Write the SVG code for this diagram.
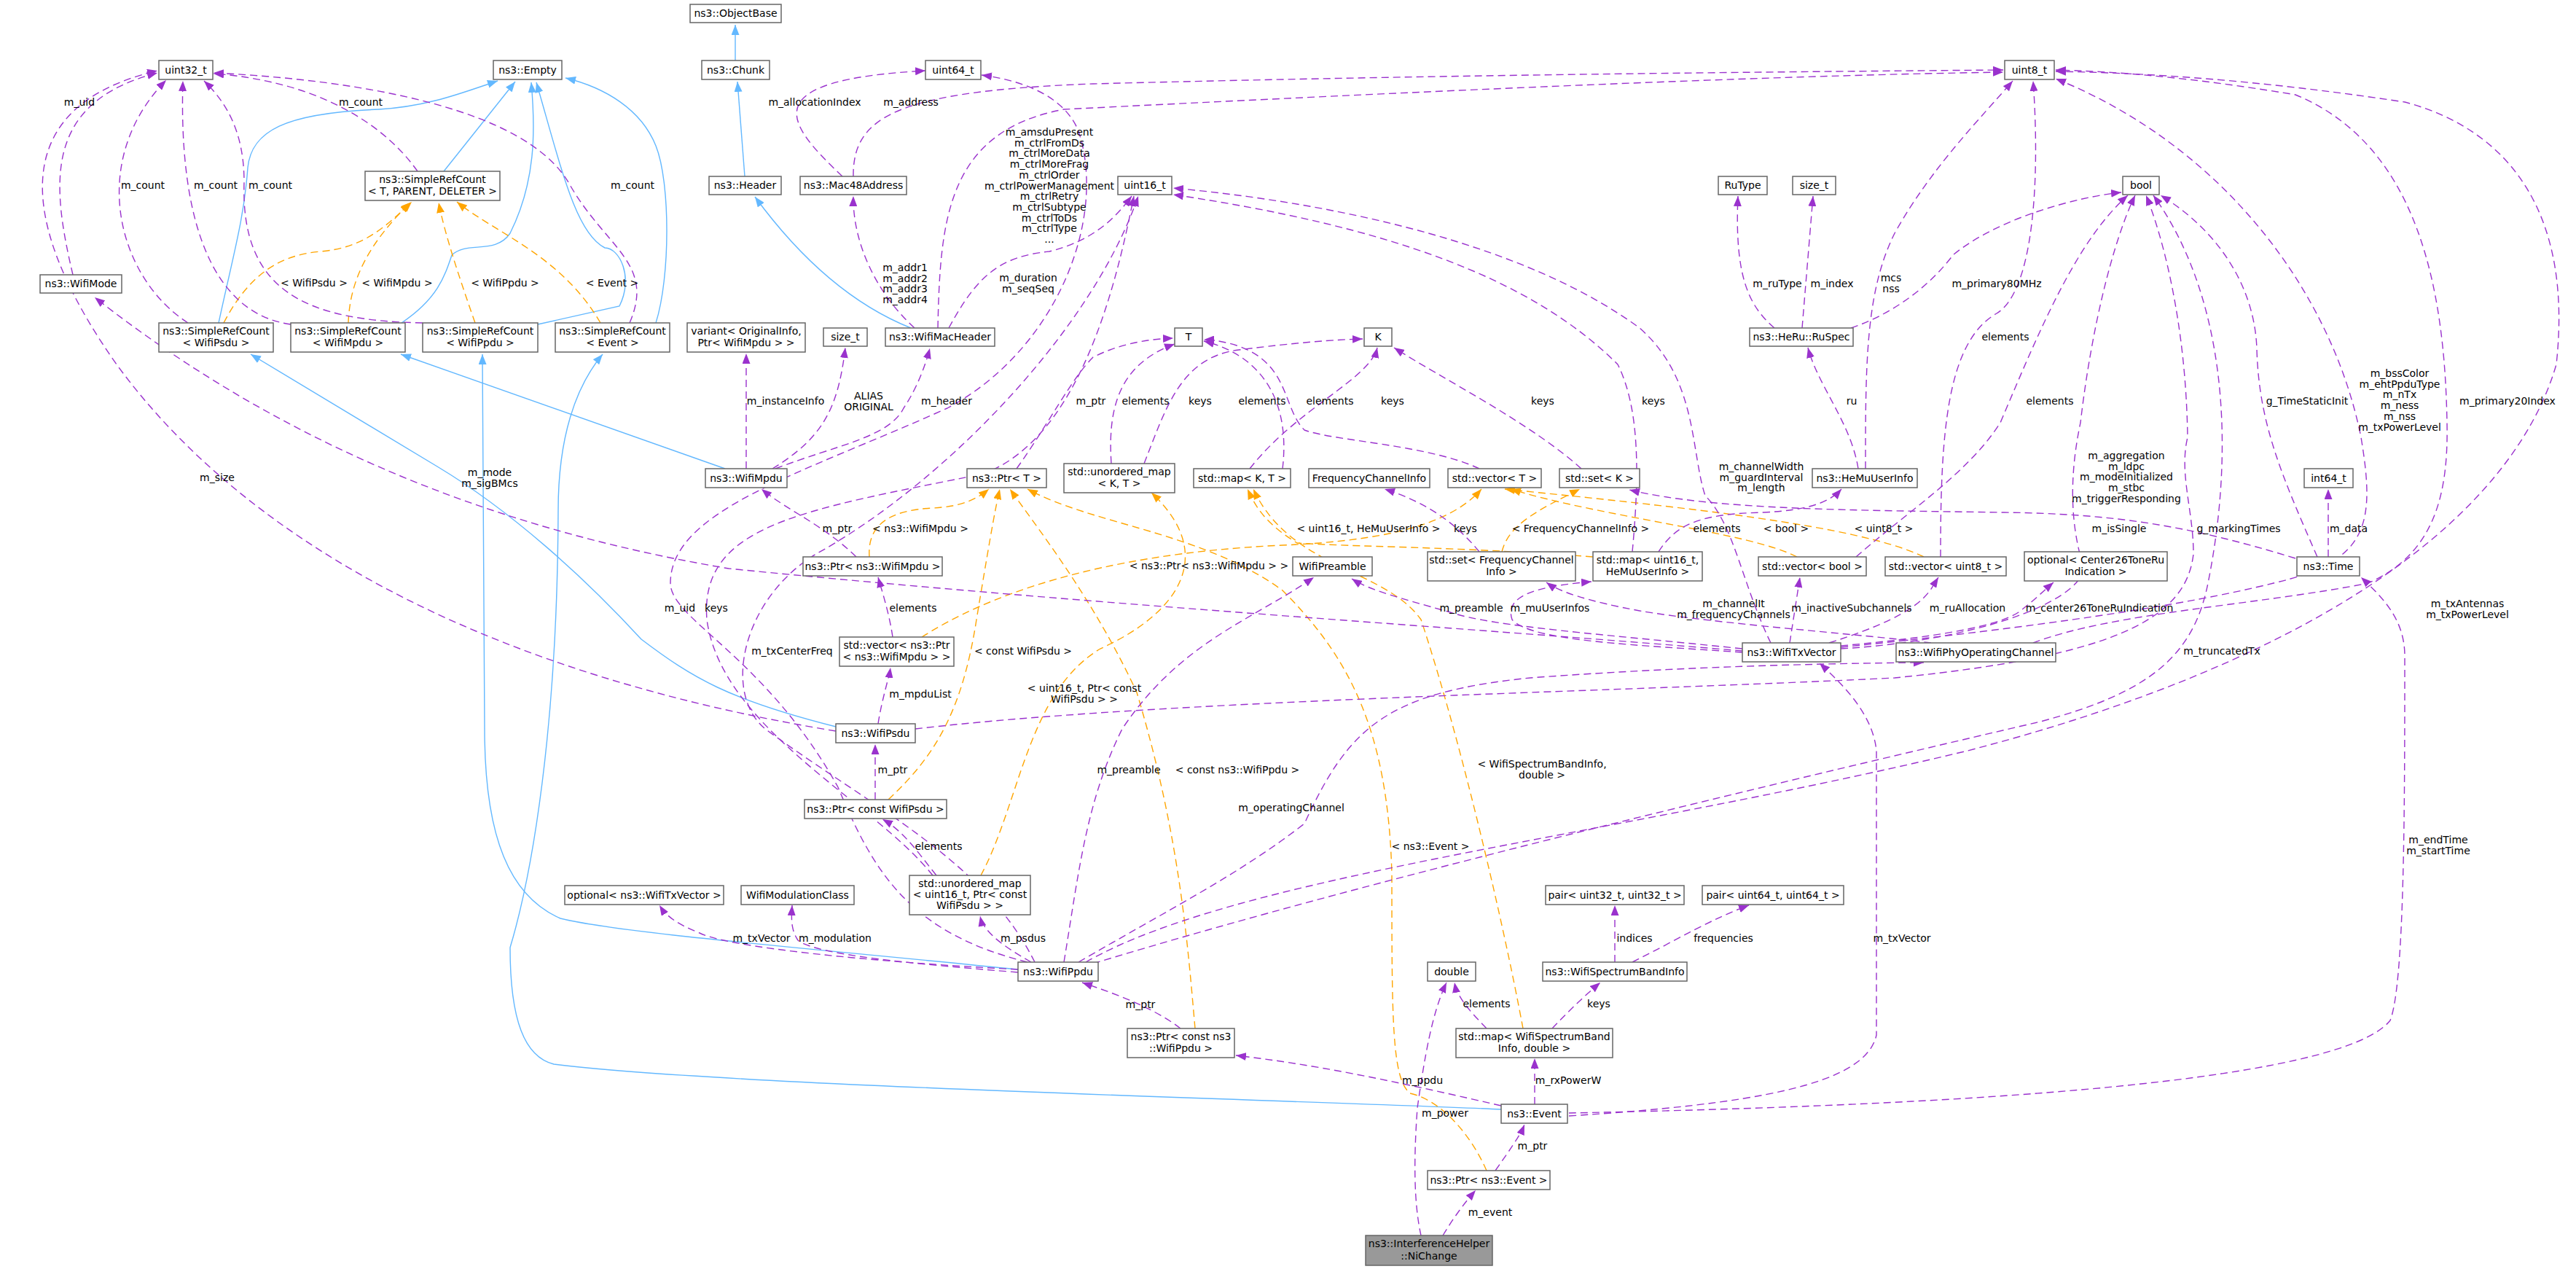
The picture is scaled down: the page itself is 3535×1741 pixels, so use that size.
<svg xmlns="http://www.w3.org/2000/svg" width="3535" height="1741" viewBox="0 0 3535 1741">
<defs>
<style>
.n rect{fill:#fff;stroke:#666;stroke-width:1.5}
.n text,.l{font-family:"DejaVu Sans",sans-serif;font-size:14px;text-anchor:middle;fill:#000}
.p{fill:none;stroke:#9a32cd;stroke-width:1.4;stroke-dasharray:10,6;marker-end:url(#ap)}
.o{fill:none;stroke:#ffa500;stroke-width:1.4;stroke-dasharray:10,6;marker-end:url(#ao)}
.b{fill:none;stroke:#63b8ff;stroke-width:1.4;marker-end:url(#ab)}
</style>
<marker id="ap" markerUnits="userSpaceOnUse" markerWidth="15" markerHeight="11" refX="14" refY="5.5" orient="auto"><path d="M0,0 L14,5.5 L0,11 z" fill="#9a32cd"/></marker>
<marker id="ao" markerUnits="userSpaceOnUse" markerWidth="15" markerHeight="11" refX="14" refY="5.5" orient="auto"><path d="M0,0 L14,5.5 L0,11 z" fill="#ffa500"/></marker>
<marker id="ab" markerUnits="userSpaceOnUse" markerWidth="15" markerHeight="11" refX="14" refY="5.5" orient="auto"><path d="M0,0 L14,5.5 L0,11 z" fill="#63b8ff"/></marker>
</defs>
<rect width="3535" height="1741" fill="#fff"/>
<g id="edges">
<path class="b" d="M1009 83 L1009 34"/>
<path class="b" d="M1022 242 L1012 112"/>
<path class="b" d="M1250 450 C1150 410 1080 330 1036 270"/>
<path class="b" d="M609 235 L707 112"/>
<path class="b" d="M300 443 C320 350 335 300 340 230 C345 180 390 155 520 150 C590 146 640 125 683 111"/>
<path class="b" d="M551 443 C600 410 610 380 620 350 C640 330 680 350 700 320 C735 250 735 180 729 113"/>
<path class="b" d="M738 445 L850 420 C870 380 850 340 830 340 C790 320 770 230 736 113"/>
<path class="b" d="M900 443 C920 380 920 250 900 200 C880 150 830 120 776 107"/>
<path class="b" d="M995 643 L550 486"/>
<path class="b" d="M1147 997 C1000 960 950 930 880 877 C800 790 700 700 600 640 C500 580 400 520 344 486"/>
<path class="b" d="M1397 1330 C1100 1300 850 1280 769 1260 C700 1230 665 1150 665 1000 L662 486"/>
<path class="b" d="M2060 1522 C1800 1510 1000 1490 760 1460 C720 1450 700 1400 700 1300 C730 1200 765 1000 766 700 C766 600 790 530 827 486"/>

<path class="o" d="M307 443 C340 380 380 350 440 345 C500 340 530 310 565 277"/>
<path class="o" d="M478 443 C480 380 510 330 563 278"/>
<path class="o" d="M652 443 C630 380 610 320 602 278"/>
<path class="o" d="M824 443 C770 350 680 320 627 277"/>
<path class="o" d="M1193 764 C1190 720 1220 700 1280 697 C1320 695 1340 685 1357 671"/>
<path class="o" d="M1219 1097 C1280 1040 1320 980 1340 850 C1355 760 1365 700 1372 671"/>
<path class="o" d="M1640 1411 C1630 1300 1620 1150 1560 950 C1500 820 1420 720 1386 671"/>
<path class="o" d="M2040 1606 C2020 1560 1980 1510 1935 1500 C1910 1480 1910 1400 1910 1200 C1905 1000 1850 900 1760 810 C1650 730 1500 720 1410 671"/>
<path class="o" d="M2186 764 C2000 750 1850 750 1780 745 C1740 720 1725 700 1712 671"/>
<path class="o" d="M2090 1411 C2060 1250 2000 1000 1950 850 C1900 780 1770 780 1720 671"/>
<path class="o" d="M1346 1201 C1400 1100 1410 950 1510 890 C1620 840 1670 760 1580 676"/>
<path class="o" d="M1265 874 C1350 820 1500 760 1760 748 C1900 742 1990 720 2033 671"/>
<path class="o" d="M2466 764 C2400 730 2200 710 2073 671"/>
<path class="o" d="M2640 764 C2550 720 2300 695 2065 671"/>
<path class="o" d="M2061 757 C2070 720 2110 700 2168 671"/>

<path class="p" d="M100 377 C70 250 60 140 216 100"/>
<path class="p" d="M1147 1003 C700 930 350 760 160 500 C40 330 -10 150 216 97"/>
<path class="p" d="M258 443 C160 380 120 220 228 110"/>
<path class="p" d="M399 445 C290 430 245 300 251 111"/>
<path class="p" d="M580 443 C420 440 330 400 335 250 C335 180 310 140 280 111"/>
<path class="p" d="M573 235 C520 160 420 110 293 101"/>
<path class="p" d="M864 443 C900 360 830 340 780 250 C720 150 500 110 293 100"/>
<path class="p" d="M1156 242 C1080 170 1030 110 1270 97"/>
<path class="p" d="M1171 242 C1170 160 1230 125 1500 115 C2000 102 2500 98 2749 96"/>
<path class="p" d="M1287 450 C1290 300 1300 180 1460 150 C1900 128 2400 104 2749 99"/>
<path class="p" d="M1255 450 C1200 400 1170 330 1171 269"/>
<path class="p" d="M1302 450 C1340 380 1370 352 1440 345 C1500 330 1530 300 1553 269"/>
<path class="p" d="M1410 1320 C1250 1280 1200 1200 1150 1080 C1050 900 920 850 920 800 C920 700 1100 650 1300 560 C1450 480 1520 300 1480 180 C1460 130 1400 110 1347 103"/>
<path class="p" d="M1280 1201 C1200 1100 990 1000 970 850 C960 720 1100 700 1350 650 C1480 600 1530 400 1556 269"/>
<path class="p" d="M1420 1320 C1350 1180 1200 1110 1050 1000 C990 950 1020 820 1120 760 C1300 660 1500 450 1562 269"/>
<path class="p" d="M2240 757 C2250 650 2250 560 2220 500 C2100 380 1900 310 1610 267"/>
<path class="p" d="M2430 882 C2390 800 2380 720 2340 680 C2320 620 2330 520 2250 450 C2100 340 1850 280 1610 258"/>
<path class="p" d="M1024 643 L1024 485"/>
<path class="p" d="M1060 643 C1130 600 1150 560 1160 477"/>
<path class="p" d="M1064 643 C1150 610 1220 600 1240 560 C1260 530 1270 500 1276 478"/>
<path class="p" d="M1395 643 C1440 580 1470 520 1500 490 C1540 470 1580 465 1610 464"/>
<path class="p" d="M1525 636 C1520 560 1535 500 1612 472"/>
<path class="p" d="M1570 636 C1600 560 1620 490 1700 480 C1780 470 1830 466 1870 465"/>
<path class="p" d="M1760 643 C1770 560 1740 490 1652 468"/>
<path class="p" d="M1715 643 C1780 560 1880 520 1890 477"/>
<path class="p" d="M2030 643 C1960 610 1830 605 1790 590 C1760 560 1770 500 1700 475 C1680 468 1660 466 1652 466"/>
<path class="p" d="M2170 643 C2100 580 1980 520 1913 477"/>
<path class="p" d="M2435 450 C2400 420 2380 380 2385 269"/>
<path class="p" d="M2473 450 L2488 269"/>
<path class="p" d="M2540 450 C2600 430 2650 390 2680 350 C2740 300 2850 270 2911 264"/>
<path class="p" d="M2550 643 C2540 580 2495 530 2481 477"/>
<path class="p" d="M2560 643 C2560 500 2560 400 2600 320 C2650 230 2720 160 2762 111"/>
<path class="p" d="M2547 764 C2620 700 2700 650 2745 580 C2800 450 2850 330 2920 268"/>
<path class="p" d="M2663 764 C2663 600 2670 470 2740 430 C2790 400 2800 250 2790 111"/>
<path class="p" d="M3180 764 C3130 650 3100 580 3097 480 C3095 400 3050 320 2965 268"/>
<path class="p" d="M2526 888 C2800 860 3000 830 3120 800 C3250 770 3260 720 3240 600 C3200 400 3050 200 2821 108"/>
<path class="p" d="M2790 882 C2900 840 3100 830 3250 800 C3340 760 3360 680 3358 580 C3355 400 3320 200 3150 130 C3000 105 2900 98 2821 96"/>
<path class="p" d="M1490 1320 C1700 1200 2200 1150 2700 1030 C3200 900 3450 700 3508 500 C3530 300 3450 180 3300 140 C3100 110 2950 100 2821 98"/>
<path class="p" d="M2526 890 C2700 880 2850 830 2860 780 C2840 720 2840 650 2855 580 C2870 450 2900 330 2930 268"/>
<path class="p" d="M3195 764 L3195 671"/>
<path class="p" d="M3150 766 C3000 720 2900 705 2750 703 C2550 700 2350 700 2236 672"/>
<path class="p" d="M2276 757 C2300 720 2330 705 2420 703 C2480 700 2510 690 2527 671"/>
<path class="p" d="M2030 757 C2000 720 1960 690 1900 671"/>
<path class="p" d="M1175 764 C1130 720 1080 700 1045 671"/>
<path class="p" d="M1225 874 C1220 840 1210 810 1205 792"/>
<path class="p" d="M1205 993 C1210 960 1220 930 1222 916"/>
<path class="p" d="M1201 1097 L1201 1021"/>
<path class="p" d="M1285 1201 C1260 1170 1240 1140 1211 1124"/>
<path class="p" d="M1415 1320 C1380 1300 1350 1280 1345 1257"/>
<path class="p" d="M1397 1330 C1200 1320 1000 1300 960 1280 C930 1268 915 1258 905 1242"/>
<path class="p" d="M1397 1334 C1250 1322 1120 1310 1095 1290 C1085 1275 1086 1260 1087 1242"/>
<path class="p" d="M1460 1320 C1480 1200 1490 1100 1540 1000 C1620 880 1720 850 1803 792"/>
<path class="p" d="M1480 1320 C1600 1250 1700 1200 1790 1130 C1850 1000 1900 950 2100 930 C2300 915 2500 910 2640 909"/>
<path class="p" d="M2391 893 C2000 860 1500 830 1000 780 C700 730 400 620 130 408"/>
<path class="p" d="M2391 890 C2200 870 2050 860 1990 840 C1920 820 1880 810 1855 794"/>
<path class="p" d="M2391 895 C2250 885 2100 880 2075 850 C2065 820 2100 805 2184 798"/>
<path class="p" d="M2650 882 C2550 870 2350 855 2250 838 C2180 825 2140 812 2122 799"/>
<path class="p" d="M2456 882 L2470 792"/>
<path class="p" d="M2510 882 C2580 860 2620 840 2640 820 C2650 810 2655 800 2660 792"/>
<path class="p" d="M2526 886 C2650 875 2740 860 2770 840 C2790 825 2805 810 2818 799"/>
<path class="p" d="M1256 1000 C1600 960 2200 950 2600 930 C2900 900 3000 850 3010 760 C3010 700 2990 650 3002 600 C3000 450 2970 330 2945 268"/>
<path class="p" d="M1500 1322 C1900 1200 2500 1060 2800 990 C2950 950 3010 900 3030 800 C3070 600 3050 400 2955 268"/>
<path class="p" d="M2153 1527 C2500 1520 3200 1500 3280 1400 C3300 1350 3300 1100 3300 900 C3300 850 3270 820 3240 792"/>
<path class="p" d="M2153 1531 C2400 1515 2560 1490 2575 1420 L2575 1030 C2570 980 2530 940 2497 910"/>
<path class="p" d="M2060 1517 C1900 1480 1800 1460 1696 1448"/>
<path class="p" d="M2106 1515 L2106 1452"/>
<path class="p" d="M2040 1411 C2020 1390 2000 1370 1996 1348"/>
<path class="p" d="M2130 1411 C2150 1390 2170 1370 2196 1348"/>
<path class="p" d="M2216 1320 L2216 1242"/>
<path class="p" d="M2240 1320 C2300 1290 2350 1260 2400 1242"/>
<path class="p" d="M1620 1411 C1580 1380 1520 1360 1485 1348"/>
<path class="p" d="M2052 1606 C2070 1580 2085 1560 2092 1543"/>
<path class="p" d="M1980 1695 C1995 1670 2010 1650 2025 1633"/>
<path class="p" d="M1950 1695 C1940 1650 1940 1590 1945 1520 C1955 1450 1965 1390 1985 1348"/>
</g>
<g id="labels">
<text class="l" x="109" y="145">m_uid</text>
<text class="l" x="196" y="259">m_count</text>
<text class="l" x="296" y="259">m_count</text>
<text class="l" x="371" y="259">m_count</text>
<text class="l" x="495" y="145">m_count</text>
<text class="l" x="868" y="259">m_count</text>
<text class="l" x="431" y="393">&lt; WifiPsdu &gt;</text>
<text class="l" x="545" y="393">&lt; WifiMpdu &gt;</text>
<text class="l" x="693" y="393">&lt; WifiPpdu &gt;</text>
<text class="l" x="840" y="393">&lt; Event &gt;</text>
<text class="l" x="1118" y="145">m_allocationIndex</text>
<text class="l" x="1250" y="145">m_address</text>
<text class="l" x="1440" y="186"><tspan x="1440">m_amsduPresent</tspan><tspan x="1440" dy="14.7">m_ctrlFromDs</tspan><tspan x="1440" dy="14.7">m_ctrlMoreData</tspan><tspan x="1440" dy="14.7">m_ctrlMoreFrag</tspan><tspan x="1440" dy="14.7">m_ctrlOrder</tspan><tspan x="1440" dy="14.7">m_ctrlPowerManagement</tspan><tspan x="1440" dy="14.7">m_ctrlRetry</tspan><tspan x="1440" dy="14.7">m_ctrlSubtype</tspan><tspan x="1440" dy="14.7">m_ctrlToDs</tspan><tspan x="1440" dy="14.7">m_ctrlType</tspan><tspan x="1440" dy="14.7">...</tspan></text>
<text class="l" x="1242" y="372"><tspan x="1242">m_addr1</tspan><tspan x="1242" dy="14.7">m_addr2</tspan><tspan x="1242" dy="14.7">m_addr3</tspan><tspan x="1242" dy="14.7">m_addr4</tspan></text>
<text class="l" x="1411" y="386"><tspan x="1411">m_duration</tspan><tspan x="1411" dy="14.7">m_seqSeq</tspan></text>
<text class="l" x="1078" y="555">m_instanceInfo</text>
<text class="l" x="1192" y="548"><tspan x="1192">ALIAS</tspan><tspan x="1192" dy="14.7">ORIGINAL</tspan></text>
<text class="l" x="1299" y="555">m_header</text>
<text class="l" x="1497" y="555">m_ptr</text>
<text class="l" x="1572" y="555">elements</text>
<text class="l" x="1647" y="555">keys</text>
<text class="l" x="1732" y="555">elements</text>
<text class="l" x="1825" y="555">elements</text>
<text class="l" x="1911" y="555">keys</text>
<text class="l" x="2117" y="555">keys</text>
<text class="l" x="2269" y="555">keys</text>
<text class="l" x="2541" y="555">ru</text>
<text class="l" x="2439" y="394">m_ruType</text>
<text class="l" x="2514" y="394">m_index</text>
<text class="l" x="2595" y="386"><tspan x="2595">mcs</tspan><tspan x="2595" dy="14.7">nss</tspan></text>
<text class="l" x="2740" y="394">m_primary80MHz</text>
<text class="l" x="2752" y="467">elements</text>
<text class="l" x="2813" y="555">elements</text>
<text class="l" x="3166" y="555">g_TimeStaticInit</text>
<text class="l" x="3293" y="517"><tspan x="3293">m_bssColor</tspan><tspan x="3293" dy="14.7">m_ehtPpduType</tspan><tspan x="3293" dy="14.7">m_nTx</tspan><tspan x="3293" dy="14.7">m_ness</tspan><tspan x="3293" dy="14.7">m_nss</tspan><tspan x="3293" dy="14.7">m_txPowerLevel</tspan></text>
<text class="l" x="3441" y="555">m_primary20Index</text>
<text class="l" x="298" y="660">m_size</text>
<text class="l" x="672" y="653"><tspan x="672">m_mode</tspan><tspan x="672" dy="14.7">m_sigBMcs</tspan></text>
<text class="l" x="1149" y="730">m_ptr</text>
<text class="l" x="1263" y="730">&lt; ns3::WifiMpdu &gt;</text>
<text class="l" x="1659" y="781">&lt; ns3::Ptr&lt; ns3::WifiMpdu &gt; &gt;</text>
<text class="l" x="933" y="839">m_uid</text>
<text class="l" x="983" y="839">keys</text>
<text class="l" x="1253" y="839">elements</text>
<text class="l" x="1087" y="898">m_txCenterFreq</text>
<text class="l" x="1404" y="898">&lt; const WifiPsdu &gt;</text>
<text class="l" x="1488" y="949"><tspan x="1488">&lt; uint16_t, Ptr&lt; const</tspan><tspan x="1488" dy="14.7">WifiPsdu &gt; &gt;</tspan></text>
<text class="l" x="1263" y="957">m_mpduList</text>
<text class="l" x="1225" y="1061">m_ptr</text>
<text class="l" x="1549" y="1061">m_preamble</text>
<text class="l" x="1698" y="1061">&lt; const ns3::WifiPpdu &gt;</text>
<text class="l" x="1288" y="1166">elements</text>
<text class="l" x="1772" y="1113">m_operatingChannel</text>
<text class="l" x="1878" y="730">&lt; uint16_t, HeMuUserInfo &gt;</text>
<text class="l" x="2011" y="730">keys</text>
<text class="l" x="2169" y="730">&lt; FrequencyChannelInfo &gt;</text>
<text class="l" x="2417" y="645"><tspan x="2417">m_channelWidth</tspan><tspan x="2417" dy="14.7">m_guardInterval</tspan><tspan x="2417" dy="14.7">m_length</tspan></text>
<text class="l" x="2356" y="730">elements</text>
<text class="l" x="2451" y="730">&lt; bool &gt;</text>
<text class="l" x="2585" y="730">&lt; uint8_t &gt;</text>
<text class="l" x="2019" y="839">m_preamble</text>
<text class="l" x="2127" y="839">m_muUserInfos</text>
<text class="l" x="2379" y="833"><tspan x="2379">m_channelIt</tspan><tspan x="2379" dy="14.7">m_frequencyChannels</tspan></text>
<text class="l" x="2541" y="839">m_inactiveSubchannels</text>
<text class="l" x="2116" y="1053"><tspan x="2116">&lt; WifiSpectrumBandInfo,</tspan><tspan x="2116" dy="14.7">double &gt;</tspan></text>
<text class="l" x="1963" y="1166">&lt; ns3::Event &gt;</text>
<text class="l" x="2918" y="630"><tspan x="2918">m_aggregation</tspan><tspan x="2918" dy="14.7">m_ldpc</tspan><tspan x="2918" dy="14.7">m_modeInitialized</tspan><tspan x="2918" dy="14.7">m_stbc</tspan><tspan x="2918" dy="14.7">m_triggerResponding</tspan></text>
<text class="l" x="2908" y="730">m_isSingle</text>
<text class="l" x="3072" y="730">g_markingTimes</text>
<text class="l" x="3223" y="730">m_data</text>
<text class="l" x="2700" y="839">m_ruAllocation</text>
<text class="l" x="2881" y="839">m_center26ToneRuIndication</text>
<text class="l" x="3049" y="898">m_truncatedTx</text>
<text class="l" x="3386" y="833"><tspan x="3386">m_txAntennas</tspan><tspan x="3386" dy="14.7">m_txPowerLevel</tspan></text>
<text class="l" x="3346" y="1157"><tspan x="3346">m_endTime</tspan><tspan x="3346" dy="14.7">m_startTime</tspan></text>
<text class="l" x="2610" y="1292">m_txVector</text>
<text class="l" x="1045" y="1292">m_txVector</text>
<text class="l" x="1146" y="1292">m_modulation</text>
<text class="l" x="1404" y="1292">m_psdus</text>
<text class="l" x="1565" y="1383">m_ptr</text>
<text class="l" x="2243" y="1292">indices</text>
<text class="l" x="2365" y="1292">frequencies</text>
<text class="l" x="2040" y="1382">elements</text>
<text class="l" x="2194" y="1382">keys</text>
<text class="l" x="1952" y="1487">m_ppdu</text>
<text class="l" x="2152" y="1487">m_rxPowerW</text>
<text class="l" x="1983" y="1532">m_power</text>
<text class="l" x="2103" y="1577">m_ptr</text>
<text class="l" x="2045" y="1668">m_event</text>
</g>
<g id="n_objectbase" class="n"><rect x="947" y="6" width="125" height="25"/><text x="1009.5" y="23">ns3::ObjectBase</text></g>
<g id="n_chunk" class="n"><rect x="963" y="83" width="93" height="26"/><text x="1009.5" y="101">ns3::Chunk</text></g>
<g id="n_uint64" class="n"><rect x="1270" y="83" width="76" height="26"/><text x="1308" y="101">uint64_t</text></g>
<g id="n_uint32" class="n"><rect x="218" y="83" width="74" height="26"/><text x="255" y="101">uint32_t</text></g>
<g id="n_empty" class="n"><rect x="677" y="83" width="94" height="26"/><text x="724" y="101">ns3::Empty</text></g>
<g id="n_uint8" class="n"><rect x="2751" y="83" width="68" height="26"/><text x="2785" y="101">uint8_t</text></g>
<g id="n_src_tpd" class="n"><rect x="501" y="235" width="185" height="40"/><text x="593.5" y="251">ns3::SimpleRefCount</text><text x="593.5" y="267">&lt; T, PARENT, DELETER &gt;</text></g>
<g id="n_wifimode" class="n"><rect x="55" y="377" width="112" height="25"/><text x="111" y="394">ns3::WifiMode</text></g>
<g id="n_header" class="n"><rect x="973" y="242" width="99" height="25"/><text x="1022.5" y="259">ns3::Header</text></g>
<g id="n_mac48" class="n"><rect x="1098" y="242" width="146" height="25"/><text x="1171" y="259">ns3::Mac48Address</text></g>
<g id="n_uint16" class="n"><rect x="1534" y="242" width="74" height="25"/><text x="1571" y="259">uint16_t</text></g>
<g id="n_rutype" class="n"><rect x="2358" y="242" width="67" height="25"/><text x="2391.5" y="259">RuType</text></g>
<g id="n_sizet2" class="n"><rect x="2460" y="242" width="59" height="25"/><text x="2489.5" y="259">size_t</text></g>
<g id="n_bool" class="n"><rect x="2913" y="242" width="50" height="25"/><text x="2938" y="259">bool</text></g>
<g id="n_src_psdu" class="n"><rect x="218" y="443" width="157" height="40"/><text x="296.5" y="459">ns3::SimpleRefCount</text><text x="296.5" y="475">&lt; WifiPsdu &gt;</text></g>
<g id="n_src_mpdu" class="n"><rect x="399" y="443" width="157" height="40"/><text x="477.5" y="459">ns3::SimpleRefCount</text><text x="477.5" y="475">&lt; WifiMpdu &gt;</text></g>
<g id="n_src_ppdu" class="n"><rect x="580" y="443" width="158" height="40"/><text x="659" y="459">ns3::SimpleRefCount</text><text x="659" y="475">&lt; WifiPpdu &gt;</text></g>
<g id="n_src_event" class="n"><rect x="762" y="443" width="157" height="40"/><text x="840.5" y="459">ns3::SimpleRefCount</text><text x="840.5" y="475">&lt; Event &gt;</text></g>
<g id="n_variant" class="n"><rect x="943" y="443" width="162" height="40"/><text x="1024" y="459">variant&lt; OriginalInfo,</text><text x="1024" y="475">Ptr&lt; WifiMpdu &gt; &gt;</text></g>
<g id="n_sizet" class="n"><rect x="1130" y="450" width="60" height="25"/><text x="1160" y="467">size_t</text></g>
<g id="n_machdr" class="n"><rect x="1215" y="450" width="150" height="25"/><text x="1290" y="467">ns3::WifiMacHeader</text></g>
<g id="n_T" class="n"><rect x="1612" y="450" width="38" height="25"/><text x="1631" y="467">T</text></g>
<g id="n_K" class="n"><rect x="1872" y="450" width="38" height="25"/><text x="1891" y="467">K</text></g>
<g id="n_ruspec" class="n"><rect x="2401" y="450" width="142" height="25"/><text x="2472" y="467">ns3::HeRu::RuSpec</text></g>
<g id="n_wifimpdu" class="n"><rect x="968" y="643" width="112" height="26"/><text x="1024" y="661">ns3::WifiMpdu</text></g>
<g id="n_ptrT" class="n"><rect x="1327" y="643" width="109" height="26"/><text x="1381.5" y="661">ns3::Ptr&lt; T &gt;</text></g>
<g id="n_umapKT" class="n"><rect x="1460" y="636" width="152" height="40"/><text x="1536" y="652">std::unordered_map</text><text x="1536" y="668">&lt; K, T &gt;</text></g>
<g id="n_mapKT" class="n"><rect x="1638" y="643" width="133" height="26"/><text x="1704.5" y="661">std::map&lt; K, T &gt;</text></g>
<g id="n_fci" class="n"><rect x="1796" y="643" width="166" height="26"/><text x="1879" y="661">FrequencyChannelInfo</text></g>
<g id="n_vecT" class="n"><rect x="1987" y="643" width="128" height="26"/><text x="2051" y="661">std::vector&lt; T &gt;</text></g>
<g id="n_setK" class="n"><rect x="2140" y="643" width="110" height="26"/><text x="2195" y="661">std::set&lt; K &gt;</text></g>
<g id="n_hemu" class="n"><rect x="2487" y="643" width="144" height="26"/><text x="2559" y="661">ns3::HeMuUserInfo</text></g>
<g id="n_int64" class="n"><rect x="3162" y="643" width="67" height="26"/><text x="3195.5" y="661">int64_t</text></g>
<g id="n_ptrmpdu" class="n"><rect x="1102" y="764" width="191" height="26"/><text x="1197.5" y="782">ns3::Ptr&lt; ns3::WifiMpdu &gt;</text></g>
<g id="n_preamble" class="n"><rect x="1774" y="764" width="109" height="26"/><text x="1828.5" y="782">WifiPreamble</text></g>
<g id="n_setfci" class="n"><rect x="1959" y="757" width="203" height="40"/><text x="2060.5" y="773">std::set&lt; FrequencyChannel</text><text x="2060.5" y="789">Info &gt;</text></g>
<g id="n_maphemu" class="n"><rect x="2186" y="757" width="150" height="40"/><text x="2261" y="773">std::map&lt; uint16_t,</text><text x="2261" y="789">HeMuUserInfo &gt;</text></g>
<g id="n_vecbool" class="n"><rect x="2413" y="764" width="148" height="26"/><text x="2487" y="782">std::vector&lt; bool &gt;</text></g>
<g id="n_vecu8" class="n"><rect x="2587" y="764" width="166" height="26"/><text x="2670" y="782">std::vector&lt; uint8_t &gt;</text></g>
<g id="n_optc26" class="n"><rect x="2778" y="757" width="196" height="40"/><text x="2876" y="773">optional&lt; Center26ToneRu</text><text x="2876" y="789">Indication &gt;</text></g>
<g id="n_time" class="n"><rect x="3152" y="764" width="86" height="26"/><text x="3195" y="782">ns3::Time</text></g>
<g id="n_vecptr" class="n"><rect x="1152" y="874" width="157" height="40"/><text x="1230.5" y="890">std::vector&lt; ns3::Ptr</text><text x="1230.5" y="906">&lt; ns3::WifiMpdu &gt; &gt;</text></g>
<g id="n_txvec" class="n"><rect x="2391" y="882" width="135" height="26"/><text x="2458.5" y="900">ns3::WifiTxVector</text></g>
<g id="n_opch" class="n"><rect x="2602" y="882" width="219" height="26"/><text x="2711.5" y="900">ns3::WifiPhyOperatingChannel</text></g>
<g id="n_wifipsdu" class="n"><rect x="1147" y="993" width="109" height="26"/><text x="1201.5" y="1011">ns3::WifiPsdu</text></g>
<g id="n_ptrpsdu" class="n"><rect x="1104" y="1097" width="195" height="26"/><text x="1201.5" y="1115">ns3::Ptr&lt; const WifiPsdu &gt;</text></g>
<g id="n_opttx" class="n"><rect x="775" y="1215" width="218" height="26"/><text x="884" y="1233">optional&lt; ns3::WifiTxVector &gt;</text></g>
<g id="n_modcls" class="n"><rect x="1017" y="1215" width="155" height="26"/><text x="1094.5" y="1233">WifiModulationClass</text></g>
<g id="n_pair32" class="n"><rect x="2121" y="1215" width="190" height="26"/><text x="2216" y="1233">pair&lt; uint32_t, uint32_t &gt;</text></g>
<g id="n_pair64" class="n"><rect x="2336" y="1215" width="194" height="26"/><text x="2433" y="1233">pair&lt; uint64_t, uint64_t &gt;</text></g>
<g id="n_umappsdu" class="n"><rect x="1248" y="1201" width="166" height="54"/><text x="1331" y="1217">std::unordered_map</text><text x="1331" y="1232">&lt; uint16_t, Ptr&lt; const</text><text x="1331" y="1247">WifiPsdu &gt; &gt;</text></g>
<g id="n_wifippdu" class="n"><rect x="1397" y="1320" width="110" height="26"/><text x="1452" y="1338">ns3::WifiPpdu</text></g>
<g id="n_double" class="n"><rect x="1959" y="1320" width="66" height="26"/><text x="1992" y="1338">double</text></g>
<g id="n_wsbi" class="n"><rect x="2117" y="1320" width="198" height="26"/><text x="2216" y="1338">ns3::WifiSpectrumBandInfo</text></g>
<g id="n_ptrppdu" class="n"><rect x="1547" y="1411" width="147" height="40"/><text x="1620.5" y="1427">ns3::Ptr&lt; const ns3</text><text x="1620.5" y="1443">::WifiPpdu &gt;</text></g>
<g id="n_mapwsbi" class="n"><rect x="1998" y="1411" width="215" height="40"/><text x="2105.5" y="1427">std::map&lt; WifiSpectrumBand</text><text x="2105.5" y="1443">Info, double &gt;</text></g>
<g id="n_event" class="n"><rect x="2060" y="1515" width="91" height="26"/><text x="2105.5" y="1533">ns3::Event</text></g>
<g id="n_ptrevent" class="n"><rect x="1959" y="1606" width="168" height="26"/><text x="2043" y="1624">ns3::Ptr&lt; ns3::Event &gt;</text></g>
<g id="n_nichange" class="n"><rect x="1874" y="1695" width="174" height="41" style="fill:#999"/><text x="1961" y="1711">ns3::InterferenceHelper</text><text x="1961" y="1728">::NiChange</text></g>
</svg>
